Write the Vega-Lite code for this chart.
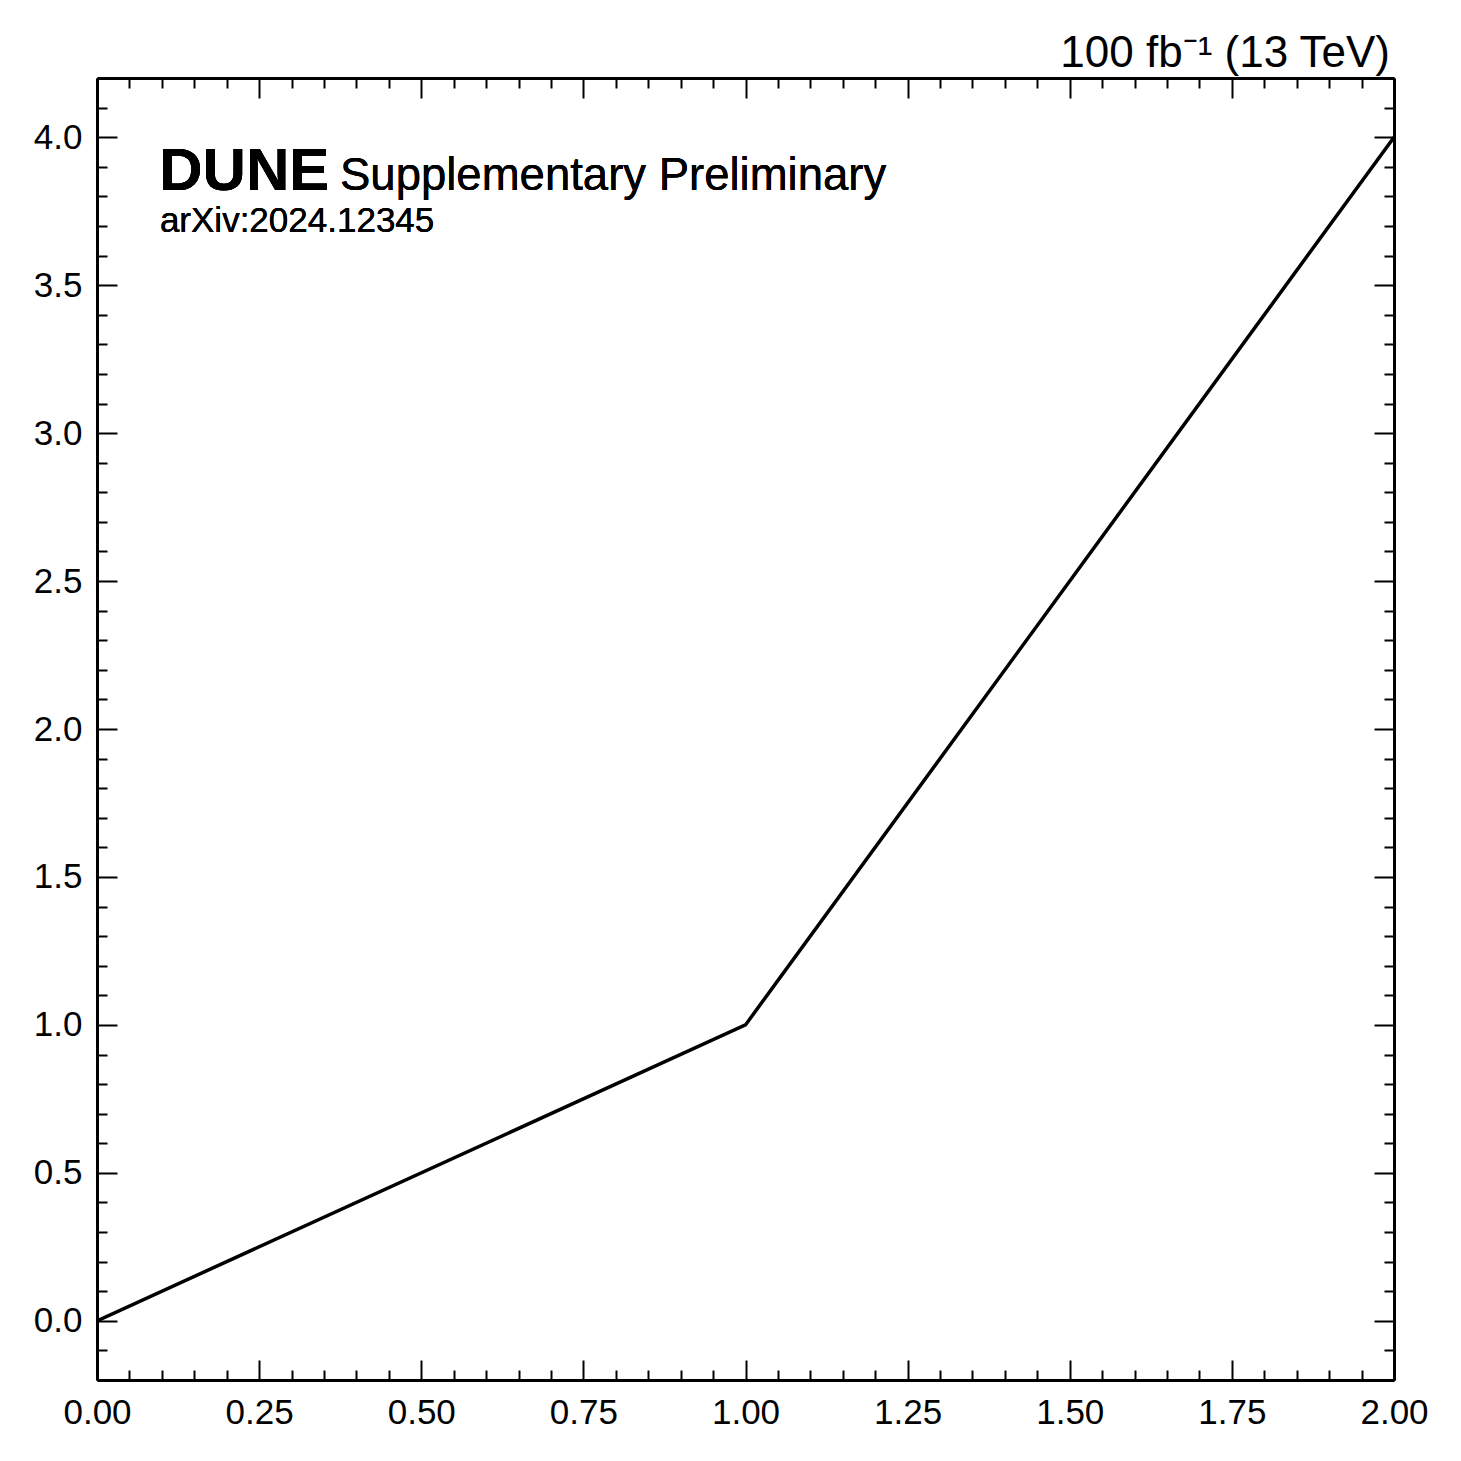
{
  "$schema": "https://vega.github.io/schema/vega-lite/v6.json",
  "autosize": {"type": "none"},
  "padding": {"left": 97, "top": 78, "right": 67, "bottom": 81},
  "width": 1297,
  "height": 1302,
  "background": "white",
  "config": {
    "view": {"stroke": null},
    "font": "Liberation Sans",
    "axis": {
      "domainColor": "black",
      "domainWidth": 3,
      "tickColor": "black",
      "tickWidth": 2,
      "labelFont": "Liberation Sans",
      "labelFontSize": 35,
      "labelColor": "black",
      "labelOverlap": false,
      "labelFlush": false,
      "grid": false,
      "title": null
    }
  },
  "title": {
    "text": "100 fb⁻¹ (13 TeV)",
    "anchor": "end",
    "frame": "group",
    "font": "Liberation Sans",
    "fontSize": 44,
    "fontWeight": "normal",
    "color": "black",
    "offset": -15,
    "dx": -4
  },
  "data": {
    "values": [
      {"x": 0, "y": 0},
      {"x": 1, "y": 1},
      {"x": 2, "y": 4}
    ]
  },
  "layer": [
    {
      "mark": {"type": "line", "color": "black", "strokeWidth": 3.5, "clip": true},
      "encoding": {
        "x": {
          "field": "x", "type": "quantitative",
          "scale": {"domain": [0, 2], "nice": false, "zero": false},
          "axis": {
            "orient": "bottom",
            "values": [0,0.05,0.1,0.15,0.2,0.25,0.3,0.35,0.4,0.45,0.5,0.55,0.6,0.65,0.7,0.75,0.8,0.85,0.9,0.95,1,1.05,1.1,1.15,1.2,1.25,1.3,1.35,1.4,1.45,1.5,1.55,1.6,1.65,1.7,1.75,1.8,1.85,1.9,1.95,2],
            "tickSize": {"condition": {"test": "abs(datum.value*4 - round(datum.value*4)) < 0.001", "value": -20}, "value": -10},
            "labelExpr": "abs(datum.value*4 - round(datum.value*4)) < 0.001 ? format(datum.value, '.2f') : ''",
            "labelPadding": 35
          }
        },
        "y": {
          "field": "y", "type": "quantitative",
          "scale": {"domain": [-0.2, 4.2], "nice": false, "zero": false},
          "axis": {
            "orient": "left",
            "values": [-0.2,-0.1,0,0.1,0.2,0.3,0.4,0.5,0.6,0.7,0.8,0.9,1,1.1,1.2,1.3,1.4,1.5,1.6,1.7,1.8,1.9,2,2.1,2.2,2.3,2.4,2.5,2.6,2.7,2.8,2.9,3,3.1,3.2,3.3,3.4,3.5,3.6,3.7,3.8,3.9,4,4.1,4.2],
            "tickSize": {"condition": {"test": "abs(datum.value*2 - round(datum.value*2)) < 0.001", "value": -20}, "value": -10},
            "labelExpr": "abs(datum.value*2 - round(datum.value*2)) < 0.001 ? format(datum.value, '.1f') : ''",
            "labelPadding": 35
          }
        }
      }
    },
    {
      "mark": {"type": "line", "strokeOpacity": 0},
      "encoding": {
        "x": {
          "field": "x", "type": "quantitative",
          "scale": {"domain": [0, 2], "nice": false, "zero": false},
          "axis": {
            "orient": "top",
            "labels": false,
            "values": [0,0.05,0.1,0.15,0.2,0.25,0.3,0.35,0.4,0.45,0.5,0.55,0.6,0.65,0.7,0.75,0.8,0.85,0.9,0.95,1,1.05,1.1,1.15,1.2,1.25,1.3,1.35,1.4,1.45,1.5,1.55,1.6,1.65,1.7,1.75,1.8,1.85,1.9,1.95,2],
            "tickSize": {"condition": {"test": "abs(datum.value*4 - round(datum.value*4)) < 0.001", "value": -20}, "value": -10}
          }
        },
        "y": {
          "field": "y", "type": "quantitative",
          "scale": {"domain": [-0.2, 4.2], "nice": false, "zero": false},
          "axis": {
            "orient": "right",
            "labels": false,
            "values": [-0.2,-0.1,0,0.1,0.2,0.3,0.4,0.5,0.6,0.7,0.8,0.9,1,1.1,1.2,1.3,1.4,1.5,1.6,1.7,1.8,1.9,2,2.1,2.2,2.3,2.4,2.5,2.6,2.7,2.8,2.9,3,3.1,3.2,3.3,3.4,3.5,3.6,3.7,3.8,3.9,4,4.1,4.2],
            "tickSize": {"condition": {"test": "abs(datum.value*2 - round(datum.value*2)) < 0.001", "value": -20}, "value": -10}
          }
        }
      }
    },
    {
      "mark": {"type": "text", "text": "DUNE", "font": "Liberation Sans", "fontWeight": "bold", "fontSize": 60, "align": "left", "baseline": "alphabetic", "color": "black"},
      "encoding": {
        "x": {"datum": 0.096, "type": "quantitative", "axis": null},
        "y": {"datum": 3.82, "type": "quantitative", "axis": null}
      }
    },
    {
      "mark": {"type": "text", "text": "Supplementary Preliminary", "font": "Liberation Sans", "fontSize": 45.5, "align": "left", "baseline": "alphabetic", "color": "black"},
      "encoding": {
        "x": {"datum": 0.3747, "type": "quantitative", "axis": null},
        "y": {"datum": 3.82, "type": "quantitative", "axis": null}
      }
    },
    {
      "mark": {"type": "text", "text": "arXiv:2024.12345", "font": "Liberation Sans", "fontSize": 35, "align": "left", "baseline": "alphabetic", "color": "black"},
      "encoding": {
        "x": {"datum": 0.097, "type": "quantitative", "axis": null},
        "y": {"datum": 3.679, "type": "quantitative", "axis": null}
      }
    }
  ],
  "resolve": {"axis": {"x": "independent", "y": "independent"}}
}
